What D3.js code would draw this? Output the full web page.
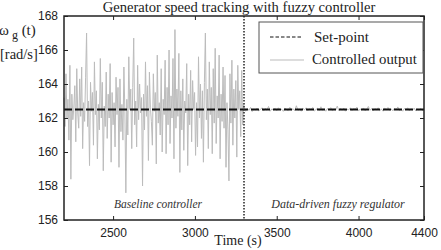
<!DOCTYPE html>
<html>
<head>
<meta charset="utf-8">
<script src="https://cdn.jsdelivr.net/npm/d3@7"></script>
<style>
  body { margin: 0; background: #fff; }
  svg { display: block; }
</style>
</head>
<body>
<svg id="chart" width="441" height="250"></svg>
<script>
// time axis ticks and value ticks
var xTicks = [2500, 3000, 3500, 4000, 4400];
var yTicks = [156, 158, 160, 162, 164, 166, 168];
var setPoint = 162.5;
var switchTime = 3300;

// baseline controller output, one sample every 6 s from t = 2200
var baseStart = 2200, baseStep = 6;
var baseValues = [
  163.2, 161.5, 164.6, 162.0, 163.1, 160.7, 165.1, 158.4, 163.4, 161.9,
  162.6, 163.9, 160.6, 164.9, 162.3, 161.4, 164.3, 162.1, 165.0, 160.2,
  162.9, 161.8, 164.4, 167.0, 161.5, 163.0, 159.2, 164.1, 162.4, 163.5,
  160.4, 165.3, 162.2, 163.6, 159.6, 162.8, 161.3, 165.5, 162.0, 164.1,
  158.9, 162.7, 161.5, 164.7, 160.8, 163.4, 162.0, 165.2, 159.4, 163.5,
  161.6, 162.9, 160.3, 164.4, 162.2, 163.8, 159.1, 164.3, 161.2, 162.8,
  160.7, 165.0, 162.4, 157.6, 163.1, 161.0, 165.6, 162.5, 163.7, 160.2,
  163.8, 166.7, 161.6, 163.0, 160.3, 165.1, 161.9, 164.0, 162.3, 163.2,
  158.0, 163.4, 161.3, 165.3, 162.1, 163.9, 159.5, 164.7, 162.6, 161.8,
  160.4, 164.6, 162.4, 163.5, 159.3, 165.7, 161.7, 162.9, 161.0, 164.9,
  160.0, 163.1, 162.2, 165.4, 159.9, 163.8, 161.6, 166.0, 160.5, 163.3,
  162.0, 165.5, 159.6, 167.2, 161.4, 163.7, 162.1, 165.8, 158.8, 163.6,
  161.3, 164.3, 160.1, 163.0, 162.3, 165.2, 159.2, 163.4, 161.6, 164.8,
  160.6, 164.2, 162.5, 163.5, 159.8, 162.9, 160.3, 165.6, 162.0, 164.0,
  160.8, 163.6, 159.4, 164.1, 167.0, 161.9, 163.7, 160.2, 165.3, 162.2,
  163.8, 159.9, 164.9, 161.7, 166.1, 160.5, 163.3, 162.0, 165.7, 159.6,
  163.4, 161.8, 165.0, 161.4, 164.5, 159.1, 162.9, 161.3, 158.3, 164.6,
  161.7, 165.4, 160.4, 163.7, 162.0, 164.2, 159.7, 165.1, 162.5, 163.6,
  160.9, 164.8, 161.6, 162.8
];

// fuzzy regulator output, one sample every 10 s from t = 3300
var fuzzyStart = 3300, fuzzyStep = 10;
var fuzzyValues = [
  162.6, 162.4, 162.55, 162.45, 162.62, 162.38, 162.52, 162.47, 162.58, 162.42,
  162.5, 162.6, 162.41, 162.55, 162.46, 162.68, 162.4, 162.53, 162.48, 162.57,
  162.43, 162.6, 162.47, 162.52, 162.39, 162.58, 162.5, 162.44, 162.63, 162.46,
  162.55, 162.42, 162.72, 162.45, 162.52, 162.4, 162.57, 162.48, 162.6, 162.43,
  162.54, 162.47, 162.62, 162.41, 162.5, 162.58, 162.44, 162.66, 162.46, 162.53,
  162.4, 162.56, 162.49, 162.61, 162.43, 162.52, 162.47, 162.7, 162.42, 162.55,
  162.46, 162.58, 162.4, 162.52, 162.48, 162.6, 162.44, 162.55, 162.5, 162.64,
  162.41, 162.53, 162.47, 162.59, 162.43, 162.51, 162.68, 162.45, 162.56, 162.42,
  162.54, 162.48, 162.6, 162.44, 162.52, 162.4, 162.57, 162.49, 162.62, 162.45,
  162.53, 162.42, 162.58, 162.47, 162.65, 162.44, 162.52, 162.4, 162.56, 162.48,
  162.6, 162.43, 162.54, 162.47, 162.58, 162.41, 162.52, 162.46, 162.57, 162.44,
  162.5
];

var series = baseValues.map(function(v, i) { return {t: baseStart + i * baseStep, v: v}; })
  .concat(fuzzyValues.map(function(v, i) { return {t: fuzzyStart + i * fuzzyStep, v: v}; }));

var margin = {left: 64, right: 17, top: 16, bottom: 30};
var W = 441, H = 250;
var svg = d3.select("#chart");

var x = d3.scaleLinear().domain([2200, 4400]).range([margin.left, W - margin.right]);
var y = d3.scaleLinear().domain([156, 168]).range([H - margin.bottom, margin.top]);

var serif = "'Liberation Serif', 'Times New Roman', serif";
var sans = "'Liberation Sans', Arial, sans-serif";
var grey = "#bcbcbc";

// controlled output
svg.append("path")
  .datum(series)
  .attr("fill", "none")
  .attr("stroke", grey)
  .attr("stroke-width", 1)
  .attr("d", d3.line().x(function(d) { return x(d.t); }).y(function(d) { return y(d.v); }));

// set-point
svg.append("line")
  .attr("x1", x(2200)).attr("x2", x(4400))
  .attr("y1", y(setPoint)).attr("y2", y(setPoint))
  .attr("stroke", "#111")
  .attr("stroke-width", 1.8)
  .attr("stroke-dasharray", "8,3");

// controller switch
svg.append("line")
  .attr("x1", x(switchTime)).attr("x2", x(switchTime))
  .attr("y1", y(168)).attr("y2", y(156))
  .attr("stroke", "#222")
  .attr("stroke-width", 1.5)
  .attr("stroke-dasharray", "1.5,1.5");

// axes, ticks pointing inward
function styleAxis(g) {
  g.select(".domain").remove();
  g.selectAll(".tick line").attr("stroke", "#222");
  g.selectAll(".tick text").style("font-family", sans).style("font-size", "12px").attr("fill", "#222");
}
svg.append("g")
  .attr("transform", "translate(0," + y(156) + ")")
  .call(d3.axisBottom(x).tickValues(xTicks).tickFormat(d3.format("d")).tickSizeInner(-4).tickSizeOuter(0).tickPadding(8))
  .call(styleAxis);
svg.append("g")
  .attr("transform", "translate(0," + y(168) + ")")
  .call(d3.axisTop(x).tickValues(xTicks).tickSizeInner(-4).tickSizeOuter(0).tickFormat(""))
  .call(styleAxis);
svg.append("g")
  .attr("transform", "translate(" + x(2200) + ",0)")
  .call(d3.axisLeft(y).tickValues(yTicks).tickFormat(d3.format("d")).tickSizeInner(-4).tickSizeOuter(0).tickPadding(6))
  .call(styleAxis);
svg.append("g")
  .attr("transform", "translate(" + x(4400) + ",0)")
  .call(d3.axisRight(y).tickValues(yTicks).tickSizeInner(-4).tickSizeOuter(0).tickFormat(""))
  .call(styleAxis);

svg.append("rect")
  .attr("x", x(2200)).attr("y", y(168))
  .attr("width", x(4400) - x(2200)).attr("height", y(156) - y(168))
  .attr("fill", "none").attr("stroke", "#222").attr("stroke-width", 1.5);

// annotations
svg.append("text").text("Baseline controller")
  .attr("x", 158).attr("y", 208).attr("text-anchor", "middle")
  .style("font-family", serif).style("font-style", "italic").style("font-size", "11.5px").attr("fill", "#333");
svg.append("text").text("Data-driven fuzzy regulator")
  .attr("x", 338).attr("y", 208).attr("text-anchor", "middle")
  .style("font-family", serif).style("font-style", "italic").style("font-size", "12px").attr("fill", "#333");

// legend
var lg = svg.append("g");
lg.append("rect").attr("x", 259).attr("y", 22).attr("width", 164).attr("height", 51)
  .attr("fill", "#fff").attr("stroke", "#555").attr("stroke-width", 1);
lg.append("line").attr("x1", 270).attr("x2", 303).attr("y1", 37).attr("y2", 37)
  .attr("stroke", "#111").attr("stroke-width", 1).attr("stroke-dasharray", "3.5,2");
lg.append("line").attr("x1", 270).attr("x2", 304).attr("y1", 60).attr("y2", 60)
  .attr("stroke", grey).attr("stroke-width", 1.2);
lg.append("text").text("Set-point").attr("x", 314).attr("y", 42)
  .style("font-family", serif).style("font-size", "15px").attr("fill", "#222");
lg.append("text").text("Controlled output").attr("x", 312).attr("y", 64)
  .style("font-family", serif).style("font-size", "14.8px").attr("fill", "#222");

// titles
svg.append("text").text("Generator speed tracking with fuzzy controller")
  .attr("x", 239).attr("y", 12).attr("text-anchor", "middle")
  .style("font-family", serif).style("font-size", "14.6px").attr("fill", "#222");
svg.append("text").text("Time (s)")
  .attr("x", 238).attr("y", 245).attr("text-anchor", "middle")
  .style("font-family", serif).style("font-size", "14px").attr("fill", "#222");

var yl = svg.append("text").attr("x", -1).attr("y", 35)
  .style("font-family", serif).style("font-size", "15px").attr("fill", "#222");
yl.append("tspan").text("\u03c9");
yl.append("tspan").text(" g").attr("dy", 4).style("font-size", "12px");
yl.append("tspan").text(" (t)").attr("dy", -4);
svg.append("text").text("[rad/s]").attr("x", 0).attr("y", 59)
  .style("font-family", serif).style("font-size", "14.5px").attr("fill", "#222");
</script>
</body>
</html>
